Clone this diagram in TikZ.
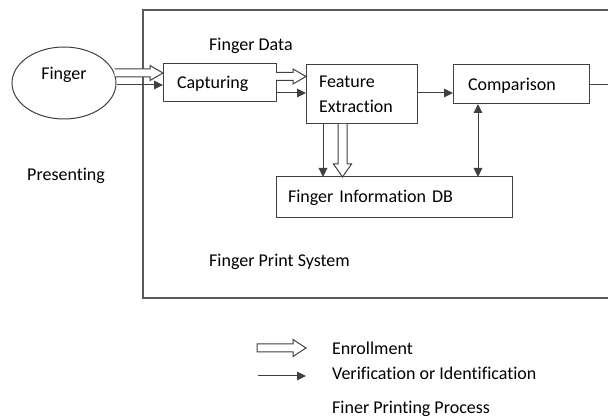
\documentclass[tikz,border=0pt]{standalone}
\usepackage{fontspec}
\setmainfont{Carlito}[Ligatures=NoCommon]
\usetikzlibrary{shapes.geometric,arrows.meta,calc}

% open-ended hollow (enrollment) arrows, horizontal and downward
\newcommand\hollowH[2]{%
  \filldraw[hollow] let \p1=#1, \p2=#2 in
    (\x1,\y1+4pt) -- (\x2-13pt,\y1+4pt) -- (\x2-13pt,\y1+7.5pt) -- (\x2,\y1)
    -- (\x2-13pt,\y1-7.5pt) -- (\x2-13pt,\y1-4pt) -- (\x1,\y1-4pt);}
\newcommand\hollowV[2]{%
  \filldraw[hollow] let \p1=#1, \p2=#2 in
    (\x1-4.5pt,\y1) -- (\x1-4.5pt,\y2+13pt) -- (\x1-9pt,\y2+13pt) -- (\x1,\y2)
    -- (\x1+9pt,\y2+13pt) -- (\x1+4.5pt,\y2+13pt) -- (\x1+4.5pt,\y1);}

\begin{document}
\begin{tikzpicture}[x=1pt,y=-1pt,
  font=\fontsize{18}{25}\selectfont,
  line/.style={draw=black!75,line width=1pt},
  hollow/.style={line,fill=white},
  solid/.style={line,-{Triangle[length=9pt,width=8.5pt]}},
  both/.style={line,{Triangle[length=9pt,width=8.5pt]}-{Triangle[length=9pt,width=8.5pt]}},
  stepbox/.style={line,rectangle,anchor=north west,outer sep=0pt,align=left,inner ysep=0pt},
  oneline/.style={text height=16pt,text depth=4pt},
  lbl/.style={anchor=west,inner sep=0pt}]

\useasboundingbox (0,0) rectangle (608,419);
\clip (0,0) rectangle (608,419);

% system frame (runs off the right edge)
\draw[draw=black!65,line width=1.3pt] (143,10) rectangle (650,298);

% nodes
\node[line,ellipse,minimum width=104pt,minimum height=72pt,inner sep=0pt,
      label={[lbl,anchor=center,yshift=8pt]center:Finger}] (fing) at (64,83) {};
\node[stepbox,oneline,minimum height=38pt,inner xsep=14pt,text width=85pt] (cap) at (163,64) {Capturing};
\node[stepbox,minimum height=59pt,inner xsep=13pt,text width=85pt] (fe) at (306,65) {Feature\\Extraction};
\node[stepbox,oneline,minimum height=39pt,inner xsep=15pt,text width=106pt] (cmp) at (453,65) {Comparison};
\node[stepbox,minimum height=41pt,inner xsep=12pt,text width=212pt] (db) at (276,177) {Finger Information DB};

\node[lbl] (fdata) at (209,46) {Finger Data};
\node[lbl] (pres) at (27,176) {Presenting};
\node[lbl] (fps) at (209,262) {Finger Print System};

% connectors
\hollowH{($(fing.east)+(-2,-10)$)}{($(cap.west)+(0,-10)$)}
\draw[solid] ($(fing.east)+(0,2)$) -- ($(cap.west)+(0,2)$);

\hollowH{($(cap.east)+(0,-6.5)$)}{($(fe.west |- cap.east)+(0,-6.5)$)}
\draw[solid] ($(cap.east)+(0,10)$) -- ($(fe.west |- cap.east)+(0,10)$);

\draw[solid] ($(fe.east)+(0,-1.5)$) -- ($(cmp.west |- fe.east)+(0,-1.5)$);
\coordinate (out) at (612,85);
\draw[line] (cmp.east |- out) -- (out);

\coordinate (fe1) at ($(fe.south west)+(17,0)$);
\coordinate (fe2) at ($(fe.south west)+(36.5,0)$);
\draw[solid] (fe1) -- (fe1 |- db.north);
\hollowV{(fe2)}{(fe2 |- db.north)}

\coordinate (cm1) at ($(cmp.south west)+(25,0)$);
\draw[both] (cm1) -- (cm1 |- db.north);

% legend
\coordinate (le1) at (257,348);
\coordinate (le2) at (306,348);
\coordinate (lv1) at (258,376);
\coordinate (lv2) at (306,376);
\filldraw[hollow] let \p1=(le1), \p2=(le2) in
    (\x1,\y1+4pt) -- (\x2-13pt,\y1+4pt) -- (\x2-13pt,\y1+8.5pt) -- (\x2,\y1)
    -- (\x2-13pt,\y1-8.5pt) -- (\x2-13pt,\y1-4pt) -- (\x1,\y1-4pt) -- cycle;
\draw[solid] (lv1) -- (lv2);
\node[lbl] (lenr) at (332,348) {Enrollment};
\node[lbl] (lver) at (332,373) {Verification or Identification};
\node[lbl] (lproc) at (332,409) {Finer Printing Process};
\end{tikzpicture}
\end{document}
